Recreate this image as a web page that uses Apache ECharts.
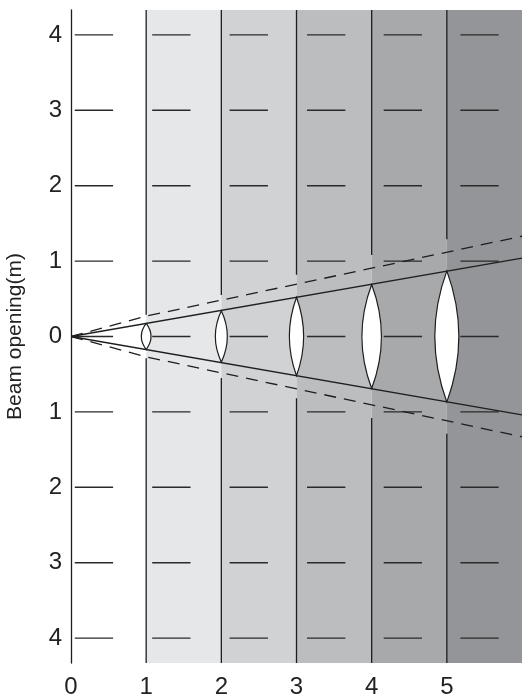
<!DOCTYPE html>
<html>
<head>
<meta charset="utf-8">
<script src="https://cdn.jsdelivr.net/npm/echarts@6/dist/echarts.min.js"></script>
<style>
html,body{margin:0;padding:0;background:#fff;}
#main{width:522px;height:699px;}
</style>
</head>
<body>
<div id="main"></div>
<script>
// ---- data ----
const xTicks = [0, 1, 2, 3, 4, 5];
const yTicks = [-4, -3, -2, -1, 0, 1, 2, 3, 4];
const yLevels = [-4, -3, -2, -1, 0, 1, 2, 3, 4];
const bandStarts = [1, 2, 3, 4, 5];
const bandEnds = [2, 3, 4, 5, 6];
const dashStarts = [0.05, 1.08, 2.11, 3.14, 4.16, 5.18];
const dashLength = 0.51;
const lensX = [1, 2, 3, 4, 5];
const lensHalfHeight = [0.173, 0.34, 0.52, 0.69, 0.87];
const lensWidth = [0.13, 0.16, 0.19, 0.26, 0.32];
const dividerX = [1, 2, 3, 4, 5];
const dividerGapTop = [0.29, 0.55, 0.82, 1.08, 1.29];
const solidBeamX = [0, 6];
const solidBeamY = [0, 1.04];
const dashedBeamX = [0, 1, 6];
const dashedBeamY = [0, 0.27, 1.33];

const X_MIN = 0, X_MAX = 6, Y_MIN = -4.33, Y_MAX = 4.33;

// ---- styles ----
const bandColors = ['#e6e7e8', '#d1d2d4', '#bcbdbf', '#a8a9ab', '#939598'];
const ink = '#1e1e1e';
const font = 'Liberation Sans, Arial, sans-serif';

const bandData = bandStarts.map((s, i) => [s, bandEnds[i]]);
const dashData = [];
dashStarts.forEach(s => yLevels.forEach(y => dashData.push([s, y, dashLength])));
const lensData = lensX.map((x, i) => [x, lensHalfHeight[i], lensWidth[i]]);
const dividerData = dividerX.map((x, i) => [x, dividerGapTop[i]]);
const solidUpper = solidBeamX.map((x, i) => [x, solidBeamY[i]]);
const solidLower = solidBeamX.map((x, i) => [x, -solidBeamY[i]]);
const dashedUpper = dashedBeamX.map((x, i) => [x, dashedBeamY[i]]);
const dashedLower = dashedBeamX.map((x, i) => [x, -dashedBeamY[i]]);

const chart = echarts.init(document.getElementById('main'), null, {renderer: 'canvas'});

const beamLine = (data, dashed) => ({
  type: 'line', data, symbol: 'none', z: 4, silent: true, clip: true,
  lineStyle: {color: ink, width: 1.3, type: dashed ? [12, 8] : 'solid'}
});

chart.setOption({
  animation: false,
  grid: {left: 71, right: 0, top: 10, bottom: 36, containLabel: false, outerBoundsMode: 'none'},
  xAxis: {
    type: 'value', min: X_MIN, max: X_MAX,
    axisLine: {show: false}, axisTick: {show: false}, splitLine: {show: false},
    axisLabel: {customValues: xTicks, margin: 12, color: '#222', fontSize: 24, fontFamily: font}
  },
  yAxis: {
    type: 'value', min: Y_MIN, max: Y_MAX,
    name: 'Beam opening(m)', nameLocation: 'middle', nameGap: 45,
    nameTextStyle: {color: '#222', fontSize: 21, fontFamily: font},
    axisLine: {show: true, lineStyle: {color: ink, width: 1.3}},
    axisTick: {show: false}, splitLine: {show: false},
    axisLabel: {customValues: yTicks, margin: 9, color: '#222', fontSize: 24, fontFamily: font,
      formatter: v => String(Math.abs(v))}
  },
  series: [
    {
      type: 'custom', z: 1, silent: true, data: bandData,
      renderItem: (params, api) => {
        const a = api.coord([api.value(0), Y_MAX]);
        const b = api.coord([api.value(1), Y_MIN]);
        return {type: 'rect', shape: {x: a[0], y: a[1], width: b[0] - a[0], height: b[1] - a[1]},
          style: {fill: bandColors[params.dataIndex]}};
      }
    },
    {
      type: 'custom', z: 2, silent: true, data: dashData,
      renderItem: (params, api) => {
        const a = api.coord([api.value(0), api.value(1)]);
        const b = api.coord([api.value(0) + api.value(2), api.value(1)]);
        return {type: 'line', shape: {x1: a[0], y1: a[1], x2: b[0], y2: b[1]},
          style: {stroke: '#2a2a2a', lineWidth: 1.4}};
      }
    },
    {
      type: 'custom', z: 3, silent: true, data: dividerData,
      renderItem: (params, api) => {
        const x = api.value(0), g = api.value(1);
        const t1 = api.coord([x, Y_MAX]), t2 = api.coord([x, g]);
        const b1 = api.coord([x, -g]), b2 = api.coord([x, Y_MIN]);
        return {type: 'group', children: [
          {type: 'line', shape: {x1: t1[0], y1: t1[1], x2: t2[0], y2: t2[1]}, style: {stroke: ink, lineWidth: 1.3}},
          {type: 'line', shape: {x1: b1[0], y1: b1[1], x2: b2[0], y2: b2[1]}, style: {stroke: ink, lineWidth: 1.3}}
        ]};
      }
    },
    beamLine(solidUpper, false),
    beamLine(solidLower, false),
    beamLine(dashedUpper, true),
    beamLine(dashedLower, true),
    {
      type: 'custom', z: 5, silent: true, data: lensData,
      renderItem: (params, api) => {
        const x = api.value(0), h = api.value(1), w = api.value(2);
        const top = api.coord([x, h]), bot = api.coord([x, -h]);
        const right = api.coord([x + w / 2, 0])[0];
        const left = api.coord([x - w / 2, 0])[0];
        const cx = top[0], my = (top[1] + bot[1]) / 2;
        const rc = cx + (right - cx) * 2, lc = cx - (cx - left) * 2;
        const d = 'M' + cx + ' ' + top[1] + ' Q' + rc + ' ' + my + ' ' + cx + ' ' + bot[1] +
                  ' Q' + lc + ' ' + my + ' ' + cx + ' ' + top[1] + ' Z';
        return {type: 'path', shape: {pathData: d}, style: {fill: '#fff', stroke: ink, lineWidth: 1.2}};
      }
    }
  ]
});
</script>
</body>
</html>
